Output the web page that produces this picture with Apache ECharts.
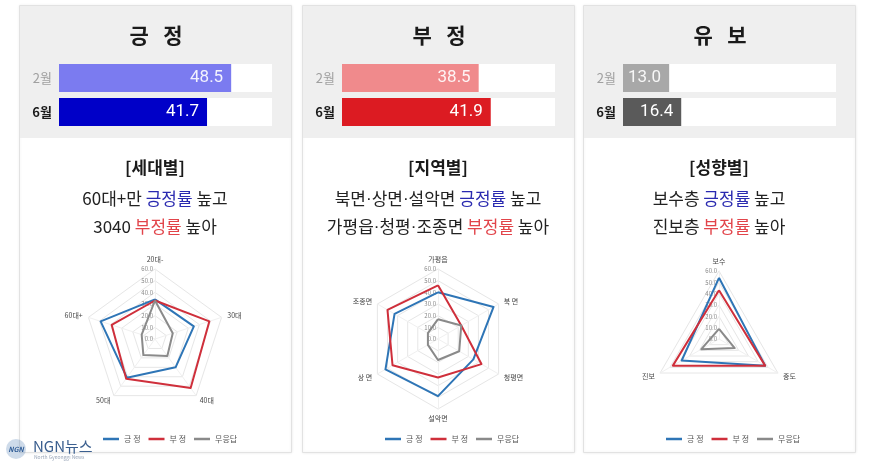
<!DOCTYPE html>
<html><head><meta charset="utf-8">
<script src="https://cdn.jsdelivr.net/npm/echarts@6/dist/echarts.min.js"></script>
<style>html,body{margin:0;padding:0;background:#fff}#c{width:875px;height:463px}</style>
</head><body><div id="c"></div>
<script>
// ---- data ----
const panelTitles = ['긍 정', '부 정', '유 보'];
const months = ['2월', '6월'];
const febValues = [48.5, 38.5, 13.0];
const junValues = [41.7, 41.9, 16.4];

const sectionTitles = ['[세대별]', '[지역별]', '[성향별]'];
const sectionLine1 = ['60대+만 {p|긍정률} 높고', '북면·상면·설악면 {p|긍정률} 높고', '보수층 {p|긍정률} 높고'];
const sectionLine2 = ['3040 {n|부정률} 높아', '가평읍·청평·조종면 {n|부정률} 높아', '진보층 {n|부정률} 높아'];

const seriesNames = ['긍 정', '부 정', '무응답'];

const ageAxes = ['20대-', '30대', '40대', '50대', '60대+'];
const agePos  = [34, 35, 30, 41, 49];
const ageNeg  = [33, 49, 52, 42, 39];
const ageNone = [33, 16, 18, 17, 12];

const regionAxes = ['가평읍', '북 면', '청평면', '설악면', '상 면', '조종면'];
const regionPos  = [40, 55, 35, 49, 52, 43];
const regionNeg  = [46, 23, 43, 33, 45, 50];
const regionNone = [17, 23, 21, 18, 10, 10];

const ideoAxes = ['보수', '중도', '진보'];
const ideoPos  = [54, 47, 38];
const ideoNeg  = [43, 47, 47];
const ideoNone = [9, 16, 18];

const radarMax = 60;
const barMax = 60;

// ---- styling / layout ----
const FONT = '"Noto Sans CJK KR","Noto Sans",sans-serif';
const cards = [{x: 19, w: 272}, {x: 302, w: 272}, {x: 583, w: 272}];
const febColors = ['#7b7bf0', '#f08a8c', '#a8a8a8'];
const junColors = ['#0000c8', '#dc1b22', '#5a5a5a'];
const lineColors = ['#2e75b6', '#cf2f3b', '#8a8a8a'];

// ECharts draws radar indicators counter-clockwise; reorder to clockwise
function cw(arr) { return [arr[0]].concat(arr.slice(1).reverse()); }
// narrow (Latin) middle dot
function dots(s) { return s.replace(/·/g, '{d|·}'); }

const radarSets = [
  {axes: ageAxes, vals: [agePos, ageNeg, ageNone], r: 70},
  {axes: regionAxes, vals: [regionPos, regionNeg, regionNone], r: 70},
  {axes: ideoAxes, vals: [ideoPos, ideoNeg, ideoNone], r: 68}
];
const radarCy = 339;
const legendLeft = [98, 380, 661];

const graphic = [];
const grid = [], xAxis = [], yAxis = [], series = [], radar = [], legend = [];

cards.forEach((c, i) => {
  const cx = c.x + c.w / 2;
  graphic.push({type: 'rect', z: -2, shape: {x: c.x + 0.5, y: 5.5, width: c.w, height: 447},
    style: {fill: '#fff', stroke: '#e2e2e2', lineWidth: 1, shadowBlur: 3, shadowColor: 'rgba(0,0,0,0.08)'}});
  graphic.push({type: 'rect', z: -1, shape: {x: c.x + 1, y: 6, width: c.w - 1, height: 132},
    style: {fill: '#efefef'}});
  graphic.push({type: 'text', z: 5, x: cx + 1, y: 35, style: {text: panelTitles[i].replace(' ', '   '), fill: '#1a1a1a',
    font: 'bold 21px ' + FONT, align: 'center', verticalAlign: 'middle'}});
  graphic.push({type: 'text', z: 5, x: cx, y: 168, style: {text: sectionTitles[i], fill: '#1a1a1a',
    font: 'bold 17px ' + FONT, align: 'center', verticalAlign: 'middle'}});
  const rich = {
    p: {fill: '#2a2ab0', font: '17px ' + FONT},
    n: {fill: '#e2444a', font: '17px ' + FONT},
    d: {fill: '#222', font: '17px "Liberation Sans",Arial,sans-serif'}
  };
  graphic.push({type: 'text', z: 5, x: cx, y: 199, style: {text: dots(sectionLine1[i]), fill: '#222',
    font: '17px ' + FONT, align: 'center', verticalAlign: 'middle', rich: rich}});
  graphic.push({type: 'text', z: 5, x: cx, y: 227, style: {text: dots(sectionLine2[i]), fill: '#222',
    font: '17px ' + FONT, align: 'center', verticalAlign: 'middle', rich: rich}});

  // bars
  grid.push({left: c.x + 40, top: 61, width: 213, height: 68});
  xAxis.push({type: 'value', gridIndex: i, min: 0, max: barMax, show: false});
  yAxis.push({type: 'category', gridIndex: i, data: months, inverse: true,
    axisLine: {show: false}, axisTick: {show: false},
    axisLabel: {margin: 7, formatter: v => v === '6월' ? '{b|' + v + '}' : '{a|' + v + '}',
      rich: {a: {color: '#a0a0a0', fontSize: 13, fontFamily: FONT},
             b: {color: '#1a1a1a', fontSize: 13, fontWeight: 'bold', fontFamily: FONT}}}});
  series.push({type: 'bar', xAxisIndex: i, yAxisIndex: i, barWidth: 28,
    showBackground: true, backgroundStyle: {color: '#ffffff'},
    data: [{value: febValues[i], itemStyle: {color: febColors[i]}, label: {color: 'rgba(255,255,255,0.9)'}},
           {value: junValues[i], itemStyle: {color: junColors[i]}}],
    label: {show: true, position: 'insideRight', color: '#fff', fontSize: 17, fontFamily: 'Roboto,' + FONT,
      distance: 8, formatter: p => p.value.toFixed(1)}});

  // radar
  const rs = radarSets[i];
  const ind = cw(rs.axes).map((n, k) => k === 0
    ? {name: n, max: radarMax, min: 0, axisLabel: {show: true}}
    : {name: n, max: radarMax, min: 0});
  radar.push({center: [cx, radarCy], radius: rs.r, startAngle: 90, shape: 'polygon',
    splitNumber: 6, indicator: ind, nameGap: 6,
    axisName: {color: '#444', fontSize: 7, fontFamily: FONT},
    splitLine: {lineStyle: {color: '#e6e6e6', width: 1}},
    splitArea: {show: false},
    axisLine: {lineStyle: {color: '#f0f0f0'}},
    axisTick: {show: false},
    axisLabel: {show: false, color: '#8a8a8a', fontSize: 6, fontFamily: FONT, margin: 2,
      formatter: v => Number(v).toFixed(1)}});
  series.push({type: 'radar', radarIndex: i, symbol: 'none', z: 3,
    data: rs.vals.map((v, k) => ({name: seriesNames[k], value: cw(v),
      lineStyle: {color: lineColors[k], width: 2}, itemStyle: {color: lineColors[k]}}))});
  legend.push({left: legendLeft[i], top: 430, data: seriesNames, icon: 'rect', itemWidth: 16, itemHeight: 2.5,
    itemGap: 8, textStyle: {color: '#555', fontSize: 8, fontFamily: FONT}, selectedMode: false});
});

// watermark
graphic.push({type: 'circle', z: 6, shape: {cx: 16, cy: 449, r: 10}, style: {fill: 'rgba(60,110,170,0.25)'}});
graphic.push({type: 'text', z: 7, x: 16, y: 449, style: {text: 'NGN', fill: '#2f5c96', font: 'italic bold 7px ' + FONT,
  align: 'center', verticalAlign: 'middle'}});
graphic.push({type: 'text', z: 7, x: 33, y: 446, style: {text: 'NGN뉴스', fill: '#3b5f8f', font: '15px ' + FONT,
  verticalAlign: 'middle'}});
graphic.push({type: 'text', z: 7, x: 34, y: 457, style: {text: 'North Gyeonggi News', fill: '#9aa6b8', font: '5px ' + FONT,
  verticalAlign: 'middle'}});

const chart = echarts.init(document.getElementById('c'), null, {renderer: 'canvas'});
chart.setOption({
  animation: false,
  backgroundColor: '#ffffff',
  graphic: graphic,
  grid, xAxis, yAxis, radar, legend, series
});
</script></body></html>
